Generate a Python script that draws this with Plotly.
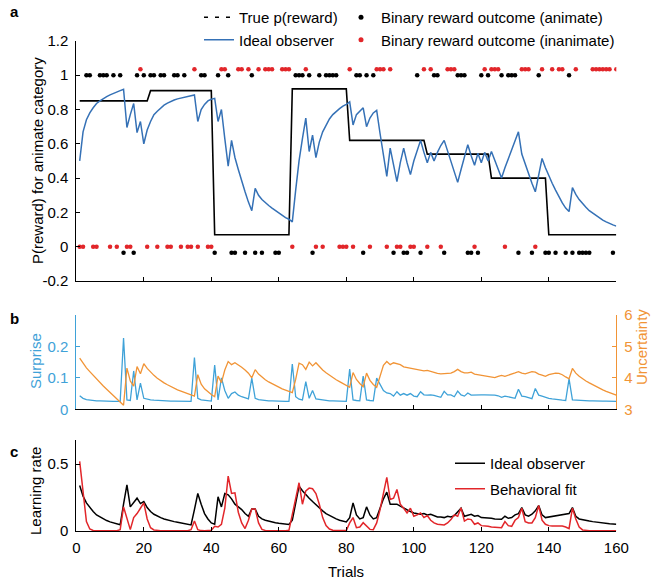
import plotly.graph_objects as go

# ---------------- data ----------------
trials = list(range(1, 161))

# generative reward probability for the animate category (piecewise constant blocks)
block_start = [1, 22, 41, 64, 81, 104, 123, 140]
block_p = [0.85, 0.91, 0.07, 0.92, 0.62, 0.54, 0.40, 0.07]

# trial-by-trial outcomes, split by chosen category and reward
animate_rewarded = [3, 4, 7, 8, 9, 11, 13, 18, 20, 22, 23, 25, 26, 29, 30, 32, 37, 38, 42, 45, 52,
                    65, 66, 67, 69, 72, 74, 75, 76, 77, 83, 84, 86, 88, 101, 106, 107, 113, 114, 115,
                    120, 122, 126, 128, 129, 130, 137, 146]
animate_unrewarded = [14, 17, 41, 46, 47, 50, 53, 55, 59, 60, 70, 85, 94, 97, 98, 102, 109, 116, 117,
                      119, 131, 135, 139, 140, 142, 145, 147, 149, 150, 151, 152, 159]
inanimate_rewarded = [19, 35, 43, 44, 48, 49, 51, 54, 56, 57, 58, 61, 62, 63, 68, 81, 89, 90, 91, 93,
                      103, 105, 110, 111, 112, 121, 123, 124, 125, 132, 133, 134, 138, 141, 143, 144,
                      148, 153, 154, 155, 156, 157, 158, 160]
inanimate_unrewarded = [1, 2, 5, 6, 10, 12, 15, 16, 21, 24, 27, 28, 31, 33, 34, 36, 39, 40, 64, 71, 73,
                        78, 79, 80, 82, 87, 92, 95, 96, 99, 100, 104, 108, 118, 127, 136]

ideal_p = [
    0.50, 0.67, 0.74, 0.78, 0.81, 0.835, 0.85, 0.865, 0.875, 0.885,
    0.895, 0.903, 0.91, 0.918, 0.695, 0.77, 0.835, 0.665, 0.73, 0.60,
    0.68, 0.73, 0.77, 0.79, 0.81, 0.825, 0.837, 0.847, 0.855, 0.862,
    0.867, 0.872, 0.876, 0.88, 0.885, 0.73, 0.80, 0.83, 0.85, 0.86,
    0.865, 0.73, 0.80, 0.63, 0.47, 0.62, 0.52, 0.45, 0.38, 0.32,
    0.26, 0.21, 0.34, 0.30, 0.275, 0.255, 0.24, 0.225, 0.21, 0.195,
    0.18, 0.17, 0.16, 0.145, 0.33, 0.50, 0.63, 0.75, 0.555, 0.65,
    0.52, 0.61, 0.67, 0.71, 0.745, 0.77, 0.79, 0.805, 0.82, 0.83,
    0.845, 0.71, 0.77, 0.79, 0.81, 0.70, 0.75, 0.78, 0.795, 0.66,
    0.53, 0.41, 0.575, 0.47, 0.38, 0.49, 0.575, 0.49, 0.42, 0.50,
    0.56, 0.62, 0.55, 0.49, 0.55, 0.50, 0.55, 0.59, 0.62, 0.56,
    0.49, 0.43, 0.375, 0.45, 0.53, 0.595, 0.53, 0.475, 0.545, 0.49,
    0.55, 0.50, 0.555, 0.50, 0.45, 0.40, 0.46, 0.51, 0.56, 0.62,
    0.67, 0.54, 0.48, 0.43, 0.37, 0.32, 0.43, 0.515, 0.46, 0.41,
    0.37, 0.33, 0.29, 0.255, 0.225, 0.205, 0.345, 0.305, 0.275, 0.25,
    0.23, 0.21, 0.195, 0.18, 0.165, 0.155, 0.145, 0.135, 0.127, 0.12]

surprise = [
    0.043, 0.035, 0.031, 0.029, 0.028, 0.027, 0.027, 0.026, 0.026, 0.026,
    0.025, 0.025, 0.025, 0.227, 0.030, 0.028, 0.122, 0.030, 0.083, 0.035,
    0.032, 0.030, 0.029, 0.028, 0.027, 0.027, 0.026, 0.026, 0.026, 0.026,
    0.025, 0.025, 0.025, 0.025, 0.165, 0.035, 0.030, 0.028, 0.027, 0.026,
    0.141, 0.030, 0.100, 0.060, 0.035, 0.050, 0.055, 0.045, 0.040, 0.036,
    0.033, 0.099, 0.035, 0.031, 0.029, 0.028, 0.027, 0.027, 0.026, 0.026,
    0.026, 0.025, 0.025, 0.144, 0.040, 0.032, 0.030, 0.088, 0.035, 0.060,
    0.033, 0.031, 0.029, 0.028, 0.027, 0.027, 0.026, 0.026, 0.026, 0.025,
    0.128, 0.030, 0.028, 0.027, 0.106, 0.030, 0.028, 0.027, 0.099, 0.080,
    0.060, 0.052, 0.050, 0.042, 0.056, 0.045, 0.050, 0.045, 0.050, 0.042,
    0.040, 0.056, 0.046, 0.045, 0.046, 0.044, 0.040, 0.038, 0.057, 0.046,
    0.046, 0.040, 0.058, 0.046, 0.042, 0.052, 0.045, 0.046, 0.046, 0.046,
    0.046, 0.046, 0.046, 0.045, 0.043, 0.038, 0.042, 0.040, 0.038, 0.035,
    0.064, 0.042, 0.040, 0.037, 0.034, 0.066, 0.045, 0.042, 0.038, 0.035,
    0.033, 0.031, 0.030, 0.029, 0.028, 0.097, 0.030, 0.029, 0.028, 0.028,
    0.027, 0.027, 0.027, 0.026, 0.026, 0.026, 0.026, 0.026, 0.025, 0.025]

uncertainty = [
    4.63, 4.47, 4.32, 4.20, 4.08, 3.96, 3.85, 3.74, 3.64, 3.54,
    3.44, 3.35, 3.26, 3.13, 4.31, 3.90, 3.74, 4.36, 4.13, 4.45,
    4.30, 4.18, 4.08, 3.99, 3.91, 3.84, 3.78, 3.72, 3.67, 3.62,
    3.58, 3.54, 3.50, 3.46, 3.42, 4.10, 3.80, 3.65, 3.55, 3.47,
    3.40, 4.06, 3.85, 4.25, 4.52, 4.42, 4.48, 4.42, 4.34, 4.25,
    4.15, 4.00, 4.26, 4.12, 4.02, 3.94, 3.87, 3.81, 3.75, 3.70,
    3.65, 3.61, 3.57, 3.53, 3.95, 4.47, 4.42, 4.27, 4.50, 4.38,
    4.48, 4.35, 4.25, 4.16, 4.08, 4.01, 3.94, 3.88, 3.82, 3.76,
    3.70, 4.17, 3.95, 3.82, 3.72, 4.15, 3.92, 3.79, 3.70, 4.05,
    4.40, 4.52, 4.42, 4.48, 4.45, 4.42, 4.35, 4.33, 4.30, 4.29,
    4.27, 4.23, 4.22, 4.24, 4.20, 4.17, 4.14, 4.13, 4.13, 4.13,
    4.15, 4.20, 4.27, 4.20, 4.16, 4.16, 4.18, 4.12, 4.10, 4.08,
    4.05, 4.04, 4.02, 4.01, 4.05, 4.08, 4.05, 4.08, 4.12, 4.16,
    4.20, 4.15, 4.13, 4.17, 4.20, 4.18, 4.12, 4.09, 4.05, 4.10,
    4.13, 4.15, 4.14, 4.10, 4.03, 3.97, 4.30, 4.15, 4.05, 3.97,
    3.90, 3.84, 3.78, 3.72, 3.67, 3.62, 3.57, 3.53, 3.49, 3.45]

lr_ideal = [
    0.34, 0.26, 0.21, 0.175, 0.145, 0.12, 0.105, 0.09, 0.078, 0.068,
    0.06, 0.052, 0.046, 0.20, 0.345, 0.18, 0.21, 0.245, 0.205, 0.22,
    0.175, 0.145, 0.125, 0.11, 0.10, 0.09, 0.082, 0.075, 0.07, 0.065,
    0.06, 0.055, 0.05, 0.045, 0.16, 0.28, 0.20, 0.13, 0.09, 0.06,
    0.05, 0.255, 0.18, 0.28, 0.27, 0.24, 0.20, 0.18, 0.16, 0.13,
    0.11, 0.165, 0.165, 0.11, 0.09, 0.08, 0.072, 0.066, 0.061, 0.057,
    0.054, 0.051, 0.049, 0.08, 0.22, 0.335, 0.30, 0.27, 0.245, 0.22,
    0.195, 0.17, 0.15, 0.13, 0.115, 0.10, 0.09, 0.08, 0.073, 0.067,
    0.10, 0.21, 0.12, 0.09, 0.10, 0.18, 0.12, 0.09, 0.10, 0.17,
    0.24, 0.29, 0.20, 0.20, 0.20, 0.185, 0.17, 0.16, 0.145, 0.135,
    0.13, 0.125, 0.13, 0.12, 0.125, 0.115, 0.105, 0.105, 0.10, 0.11,
    0.105, 0.115, 0.14, 0.17, 0.11, 0.115, 0.125, 0.11, 0.115, 0.10,
    0.10, 0.095, 0.095, 0.09, 0.09, 0.087, 0.11, 0.095, 0.10, 0.12,
    0.13, 0.175, 0.12, 0.11, 0.125, 0.15, 0.19, 0.12, 0.10, 0.105,
    0.11, 0.115, 0.12, 0.12, 0.125, 0.13, 0.175, 0.11, 0.09, 0.083,
    0.078, 0.074, 0.07, 0.066, 0.063, 0.06, 0.057, 0.054, 0.052, 0.05]

lr_fit = [
    0.52, 0.30, 0.07, 0.015, 0.004, 0.002, 0.001, 0.001, 0.001, 0.001,
    0.001, 0.002, 0.01, 0.18, 0.09, 0.01, 0.10, 0.13, 0.17, 0.21,
    0.09, 0.025, 0.008, 0.003, 0.002, 0.001, 0.001, 0.001, 0.001, 0.001,
    0.001, 0.001, 0.002, 0.01, 0.075, 0.01, 0.003, 0.002, 0.002, 0.005,
    0.035, 0.03, 0.05, 0.17, 0.41, 0.28, 0.285, 0.14, 0.06, 0.018,
    0.08, 0.165, 0.165, 0.06, 0.012, 0.004, 0.002, 0.001, 0.001, 0.001,
    0.001, 0.002, 0.005, 0.13, 0.25, 0.36, 0.20, 0.30, 0.32, 0.315,
    0.28, 0.20, 0.10, 0.04, 0.015, 0.006, 0.003, 0.002, 0.002, 0.003,
    0.06, 0.10, 0.025, 0.03, 0.062, 0.035, 0.012, 0.01, 0.06, 0.16,
    0.28, 0.40, 0.235, 0.245, 0.31, 0.20, 0.17, 0.135, 0.17, 0.11,
    0.12, 0.135, 0.10, 0.115, 0.08, 0.06, 0.05, 0.05, 0.045, 0.06,
    0.085, 0.12, 0.11, 0.173, 0.074, 0.09, 0.085, 0.05, 0.06, 0.04,
    0.04, 0.035, 0.03, 0.03, 0.025, 0.025, 0.07, 0.04, 0.035, 0.08,
    0.10, 0.17, 0.07, 0.06, 0.06, 0.10, 0.19, 0.08, 0.05, 0.04,
    0.037, 0.035, 0.037, 0.037, 0.03, 0.017, 0.17, 0.09, 0.03, 0.008,
    0.003, 0.002, 0.001, 0.001, 0.001, 0.001, 0.001, 0.001, 0.001, 0.001]

# ---------------- style ----------------
FONT = "Liberation Sans, Arial, Helvetica, sans-serif"
C_OBS = "#3571b6"
C_RED = "#e2262a"
C_SURP = "#3fa2d8"
C_UNC = "#f19436"
DOT_SHIFT = 0.035  # vertical separation of the two outcome rows

true_p = []
for t in trials:
    k = max(i for i, s in enumerate(block_start) if s <= t)
    true_p.append(block_p[k])

fig = go.Figure()

# ---- panel a ----
fig.add_trace(go.Scatter(x=trials, y=true_p, mode="lines", line=dict(color="black", width=1.6),
                         showlegend=False, xaxis="x", yaxis="y"))
fig.add_trace(go.Scatter(x=trials, y=ideal_p, mode="lines", line=dict(color=C_OBS, width=1.5),
                         showlegend=False, xaxis="x", yaxis="y"))
fig.add_trace(go.Scatter(x=animate_rewarded, y=[1] * len(animate_rewarded), mode="markers",
                         marker=dict(color="black", size=4.5), showlegend=False, xaxis="x", yaxis="y"))
fig.add_trace(go.Scatter(x=animate_unrewarded, y=[0 - DOT_SHIFT] * len(animate_unrewarded), mode="markers",
                         marker=dict(color="black", size=4.5), showlegend=False, xaxis="x", yaxis="y"))
fig.add_trace(go.Scatter(x=inanimate_rewarded, y=[1 + DOT_SHIFT] * len(inanimate_rewarded), mode="markers",
                         marker=dict(color=C_RED, size=4.5), showlegend=False, xaxis="x", yaxis="y"))
fig.add_trace(go.Scatter(x=inanimate_unrewarded, y=[0] * len(inanimate_unrewarded), mode="markers",
                         marker=dict(color=C_RED, size=4.5), showlegend=False, xaxis="x", yaxis="y"))

# legend entries for panel a
fig.add_trace(go.Scatter(x=[None], y=[None], mode="lines", name="True p(reward)",
                         line=dict(color="black", width=1.3, dash="4px,7px"),
                         legend="legend", xaxis="x", yaxis="y"))
fig.add_trace(go.Scatter(x=[None], y=[None], mode="lines", name="Ideal observer",
                         line=dict(color=C_OBS, width=1.5), legend="legend",
                         xaxis="x", yaxis="y"))
fig.add_trace(go.Scatter(x=[None], y=[None], mode="markers", name="Binary reward outcome (animate)",
                         marker=dict(color="black", size=5), legend="legend2",
                         xaxis="x", yaxis="y"))
fig.add_trace(go.Scatter(x=[None], y=[None], mode="markers", name="Binary reward outcome (inanimate)",
                         marker=dict(color=C_RED, size=5), legend="legend2",
                         xaxis="x", yaxis="y"))

# ---- panel b ----
fig.add_trace(go.Scatter(x=trials, y=surprise, mode="lines", line=dict(color=C_SURP, width=1.3),
                         showlegend=False, xaxis="x2", yaxis="y2"))
fig.add_trace(go.Scatter(x=trials, y=uncertainty, mode="lines", line=dict(color=C_UNC, width=1.3),
                         showlegend=False, xaxis="x2", yaxis="y3"))

# ---- panel c ----
fig.add_trace(go.Scatter(x=trials, y=lr_ideal, mode="lines", name="Ideal observer",
                         line=dict(color="black", width=1.5), legend="legend3", legendgroup="c1",
                         xaxis="x3", yaxis="y4"))
fig.add_trace(go.Scatter(x=trials, y=lr_fit, mode="lines", name="Behavioral fit",
                         line=dict(color=C_RED, width=1.5), legend="legend3", legendgroup="c2",
                         xaxis="x3", yaxis="y4"))

W, H = 655, 584
XDOM = [76.3 / W, 616.3 / W]


def ydom(top_px, bottom_px):
    return [1 - bottom_px / H, 1 - top_px / H]


axis_common = dict(showline=True, linewidth=1, ticks="inside", ticklen=4, tickwidth=1,
                   showgrid=False, zeroline=False, tickfont=dict(size=15, family=FONT),
                   automargin=False)

xticks = [0, 20, 40, 60, 80, 100, 120, 140, 160]

fig.update_layout(
    width=W, height=H, margin=dict(l=0, r=0, t=0, b=0),
    paper_bgcolor="white", plot_bgcolor="white",
    font=dict(family=FONT, size=15, color="black"),
    xaxis=dict(domain=XDOM, range=[0, 160], anchor="y", tickvals=xticks, showticklabels=False,
               linecolor="black", tickcolor="black", **axis_common),
    yaxis=dict(domain=ydom(40.9, 281), range=[-0.2, 1.2], anchor="x",
               tickvals=[-0.2, 0, 0.2, 0.4, 0.6, 0.8, 1, 1.2],
               ticktext=["-0.2", "0", "0.2", "0.4", "0.6", "0.8", "1", "1.2"],
               linecolor="black", tickcolor="black", ticklabelstandoff=4, **axis_common),
    xaxis2=dict(domain=XDOM, range=[0, 160], anchor="y2", tickvals=xticks, showticklabels=False,
                linecolor="black", tickcolor="black", **axis_common),
    yaxis2=dict(domain=ydom(315, 409.3), range=[0, 0.3], anchor="x2", tickvals=[0, 0.1, 0.2],
                linecolor=C_SURP, tickcolor=C_SURP, ticklabelstandoff=4,
                **{**axis_common, "tickfont": dict(size=15, family=FONT, color=C_SURP)}),
    yaxis3=dict(range=[3, 6], anchor="x2", overlaying="y2", side="right", tickvals=[3, 4, 5, 6],
                linecolor=C_UNC, tickcolor=C_UNC, ticklabelstandoff=4,
                **{**axis_common, "tickfont": dict(size=15, family=FONT, color=C_UNC)}),
    xaxis3=dict(domain=XDOM, range=[0, 160], anchor="y4", tickvals=xticks,
                linecolor="black", tickcolor="black", ticklabelstandoff=3, **axis_common),
    yaxis4=dict(domain=ydom(439.9, 531), range=[0, 0.68], anchor="x3", tickvals=[0, 0.5],
                ticktext=["0", "0.5"], linecolor="black", tickcolor="black", ticklabelstandoff=4,
                **axis_common),
    legend=dict(x=199 / W, y=1 - 1 / H, xanchor="left", yanchor="top", bgcolor="rgba(0,0,0,0)",
                font=dict(size=15, family=FONT), tracegroupgap=0, itemwidth=30),
    legend2=dict(x=341 / W, y=1 - 1 / H, xanchor="left", yanchor="top", bgcolor="rgba(0,0,0,0)",
                 font=dict(size=15, family=FONT), tracegroupgap=0, itemwidth=30),
    legend3=dict(x=450 / W, y=1 - 447 / H, xanchor="left", yanchor="top", bgcolor="rgba(0,0,0,0)",
                 font=dict(size=15, family=FONT), tracegroupgap=3, itemwidth=30),
    annotations=[
        dict(text="<b>a</b>", x=8 / W, y=1 - 12 / H, xref="paper", yref="paper", showarrow=False,
             xanchor="left", yanchor="middle", font=dict(size=15)),
        dict(text="<b>b</b>", x=8 / W, y=1 - 318 / H, xref="paper", yref="paper", showarrow=False,
             xanchor="left", yanchor="middle", font=dict(size=15)),
        dict(text="<b>c</b>", x=8 / W, y=1 - 451 / H, xref="paper", yref="paper", showarrow=False,
             xanchor="left", yanchor="middle", font=dict(size=15)),
        dict(text="P(reward) for animate category", x=38 / W, y=1 - 161 / H, xref="paper", yref="paper",
             showarrow=False, textangle=-90, xanchor="center", yanchor="middle", font=dict(size=15)),
        dict(text="Surprise", x=35 / W, y=1 - 361 / H, xref="paper", yref="paper",
             showarrow=False, textangle=-90, xanchor="center", yanchor="middle",
             font=dict(size=15, color=C_SURP)),
        dict(text="Uncertainty", x=641 / W, y=1 - 347 / H, xref="paper", yref="paper",
             showarrow=False, textangle=-90, xanchor="center", yanchor="middle",
             font=dict(size=15, color=C_UNC)),
        dict(text="Learning rate", x=35 / W, y=1 - 491 / H, xref="paper", yref="paper",
             showarrow=False, textangle=-90, xanchor="center", yanchor="middle", font=dict(size=15)),
        dict(text="Trials", x=346 / W, y=1 - 571 / H, xref="paper", yref="paper",
             showarrow=False, xanchor="center", yanchor="middle", font=dict(size=15)),
    ],
)

fig.write_html("out.html")
